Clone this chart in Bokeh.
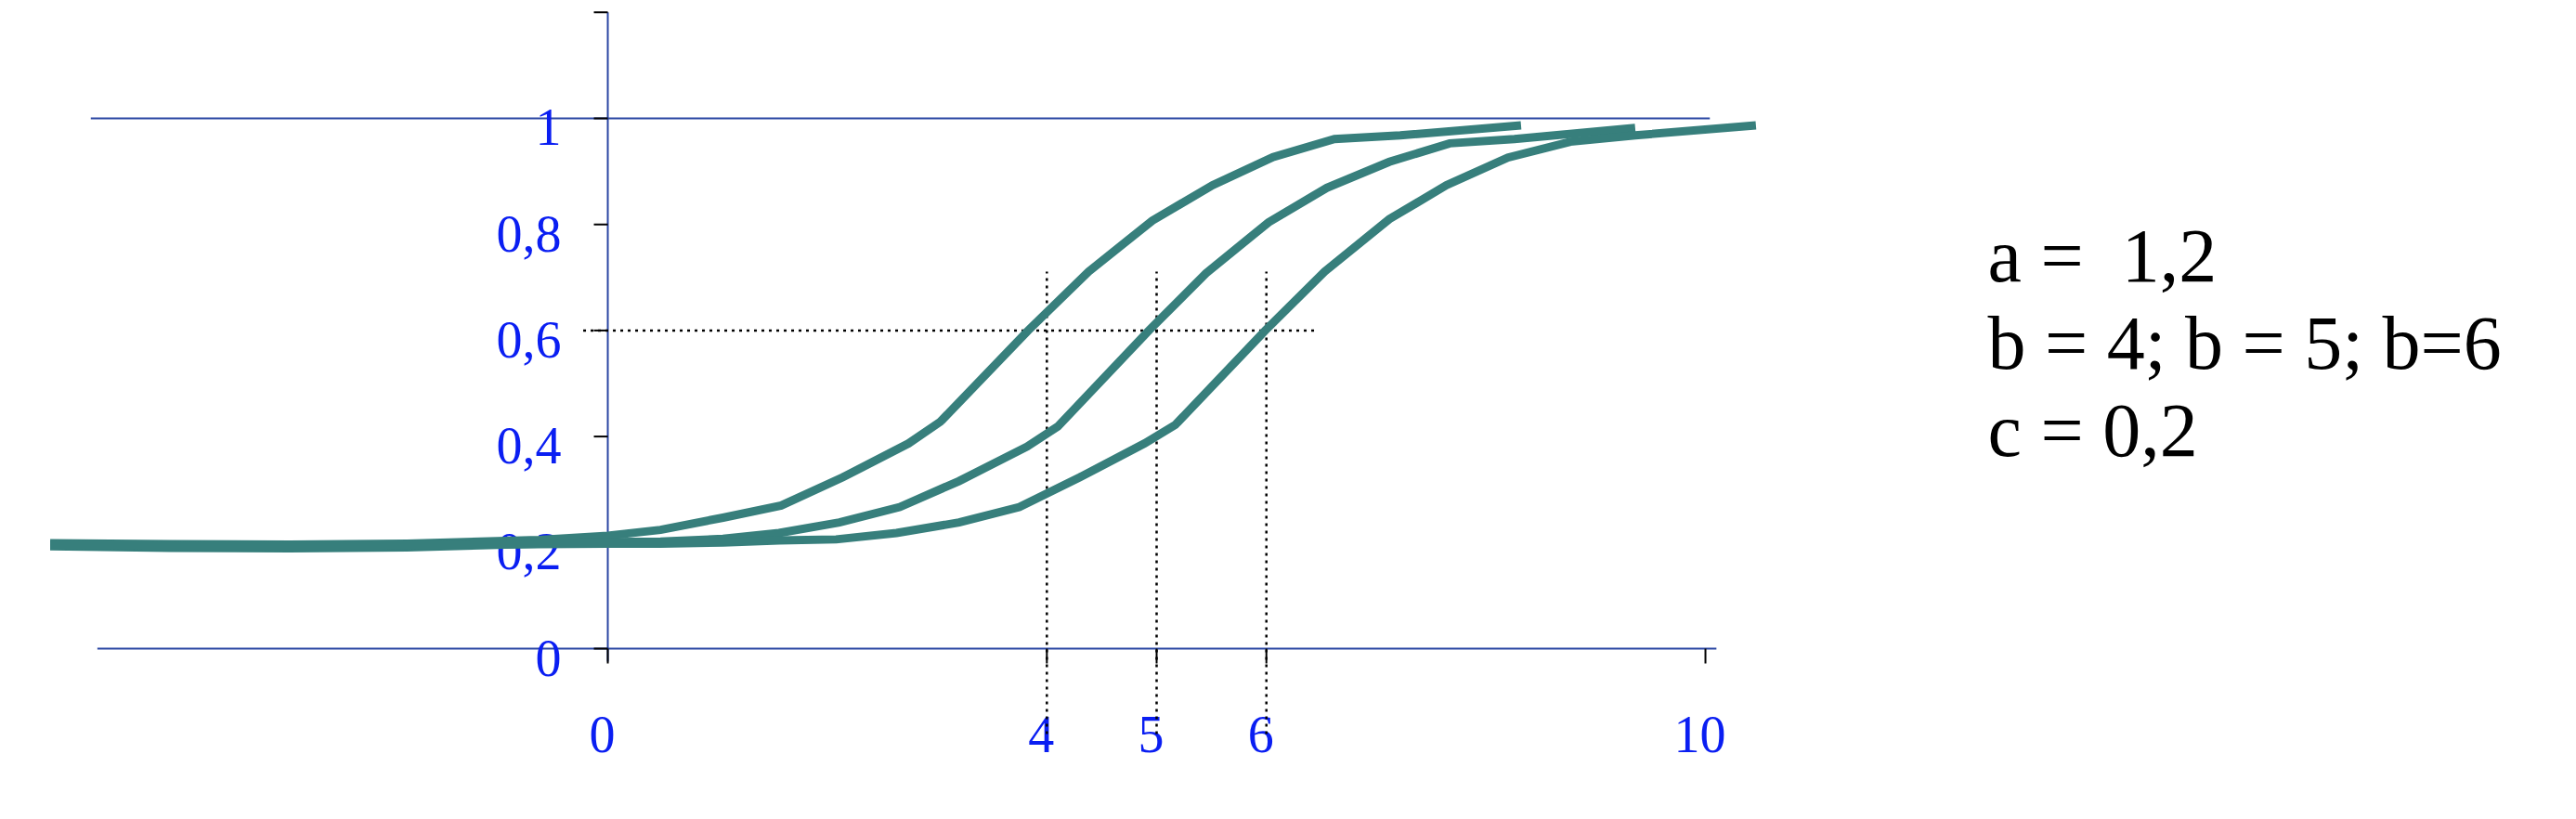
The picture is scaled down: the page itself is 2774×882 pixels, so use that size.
from bokeh.plotting import figure
from bokeh.models import ColumnDataSource
from bokeh.core.properties import value
from bokeh.embed import file_html
from bokeh.resources import INLINE

# ---------------- data ----------------
curve1_x = [-5.08, -3.99, -2.90, -1.83, -0.63, 0.0, 0.48, 1.05, 1.58, 2.14, 2.74, 3.03,
            3.83, 4.38, 4.96, 5.51, 6.06, 6.62, 7.22, 8.32]
curve1_y = [0.199, 0.197, 0.196, 0.198, 0.205, 0.213, 0.224, 0.247, 0.270, 0.323, 0.387, 0.428,
            0.600, 0.711, 0.807, 0.874, 0.927, 0.961, 0.968, 0.987]

curve2_x = [-5.08, -3.99, -2.90, -1.83, -0.63, 0.0, 0.48, 1.05, 1.56, 2.11, 2.66, 3.20,
            3.82, 4.10, 4.93, 5.45, 6.02, 6.55, 7.12, 7.67, 8.26, 9.36]
curve2_y = [0.193, 0.190, 0.189, 0.191, 0.198, 0.201, 0.202, 0.207, 0.218, 0.238, 0.267, 0.316,
            0.381, 0.419, 0.600, 0.708, 0.804, 0.869, 0.918, 0.953, 0.961, 0.982]

curve3_x = [-5.08, -3.99, -2.90, -1.83, -0.63, 0.0, 0.48, 1.05, 1.56, 2.08, 2.63, 3.20,
            3.75, 4.30, 4.89, 5.17, 5.99, 6.53, 7.12, 7.64, 8.20, 8.77, 9.36, 10.46]
curve3_y = [0.196, 0.194, 0.193, 0.195, 0.197, 0.198, 0.198, 0.200, 0.204, 0.206, 0.218, 0.238,
            0.267, 0.323, 0.387, 0.422, 0.600, 0.711, 0.810, 0.874, 0.926, 0.956, 0.968, 0.987]

y_ticks = [0.0, 0.2, 0.4, 0.6, 0.8, 1.0, 1.2]
y_tick_labels = ["0", "0,2", "0,4", "0,6", "0,8", "1", ""]
x_ticks = [0, 4, 5, 6, 10]
x_tick_labels = ["0", "4", "5", "6", "10"]

b_values = [4, 5, 6]          # dotted guide lines
guide_level = 0.6             # horizontal dotted guide

params_text = ["a = \u00a01,2", "b = 4; b = 5; b=6", "c = 0,2"]

# ---------------- figure ----------------
W, H = 2758, 866
X0, X1 = -5.533, 17.800
Y0, Y1 = -0.2942, 1.2224
PX_X = (X1 - X0) / W
PX_Y = (Y1 - Y0) / H

p = figure(width=W, height=H, x_range=(X0, X1), y_range=(Y0, Y1),
           output_backend="svg", toolbar_location=None,
           min_border=0, outline_line_color=None)
p.xaxis.visible = False
p.yaxis.visible = False
p.xgrid.visible = False
p.ygrid.visible = False
p.background_fill_color = "white"
p.border_fill_color = "white"

AXIS_COLOR = "#2A46A3"
LABEL_COLOR = "#0A1EF2"
CURVE_COLOR = "#377F7C"
SERIF = value("Liberation Serif")

# axis lines
p.segment(x0=[-4.65, -4.71, 0.0], y0=[0.0, 1.0, -0.0245],
          x1=[10.10, 10.04, 0.0], y1=[0.0, 1.0, 1.2],
          line_color=AXIS_COLOR, line_width=2)

# tick marks
p.segment(x0=[-15 * PX_X] * len(y_ticks), y0=y_ticks,
          x1=[0.0] * len(y_ticks), y1=y_ticks,
          line_color="black", line_width=2)
p.segment(x0=x_ticks, y0=[0.0] * len(x_ticks),
          x1=x_ticks, y1=[-16 * PX_Y] * len(x_ticks),
          line_color="black", line_width=2)

# tick labels
ysrc = ColumnDataSource(dict(x=[-50 * PX_X] * len(y_ticks),
                             y=[t - 10 * PX_Y for t in y_ticks],
                             text=y_tick_labels))
p.text(x="x", y="y", text="text", source=ysrc, text_font=SERIF,
       text_font_size=value("56px"), text_color=LABEL_COLOR,
       text_align="right", text_baseline="alphabetic")

xsrc = ColumnDataSource(dict(x=[t - 6 * PX_X for t in x_ticks],
                             y=[-92 * PX_Y] * len(x_ticks),
                             text=x_tick_labels))
p.text(x="x", y="y", text="text", source=xsrc, text_font=SERIF,
       text_font_size=value("56px"), text_color=LABEL_COLOR,
       text_align="center", text_baseline="alphabetic")

# dotted guides
p.segment(x0=b_values, y0=[-0.161] * len(b_values),
          x1=b_values, y1=[0.711] * len(b_values),
          line_color="black", line_width=2.5, line_dash="3 5")
p.segment(x0=[-0.224], y0=[guide_level], x1=[6.457], y1=[guide_level],
          line_color="black", line_width=2.5, line_dash="3 5")

# curves
for cx, cy in [(curve1_x, curve1_y), (curve2_x, curve2_y), (curve3_x, curve3_y)]:
    p.line(cx, cy, line_color=CURVE_COLOR, line_width=9, line_join="miter")

# parameter text
tsrc = ColumnDataSource(dict(x=[12.572] * 3, y=[0.740, 0.577, 0.411], text=params_text))
p.text(x="x", y="y", text="text", source=tsrc, text_font=SERIF,
       text_font_size=value("82px"), text_color="black",
       text_align="left", text_baseline="alphabetic")

open("out.html", "w").write(file_html(p, INLINE))
